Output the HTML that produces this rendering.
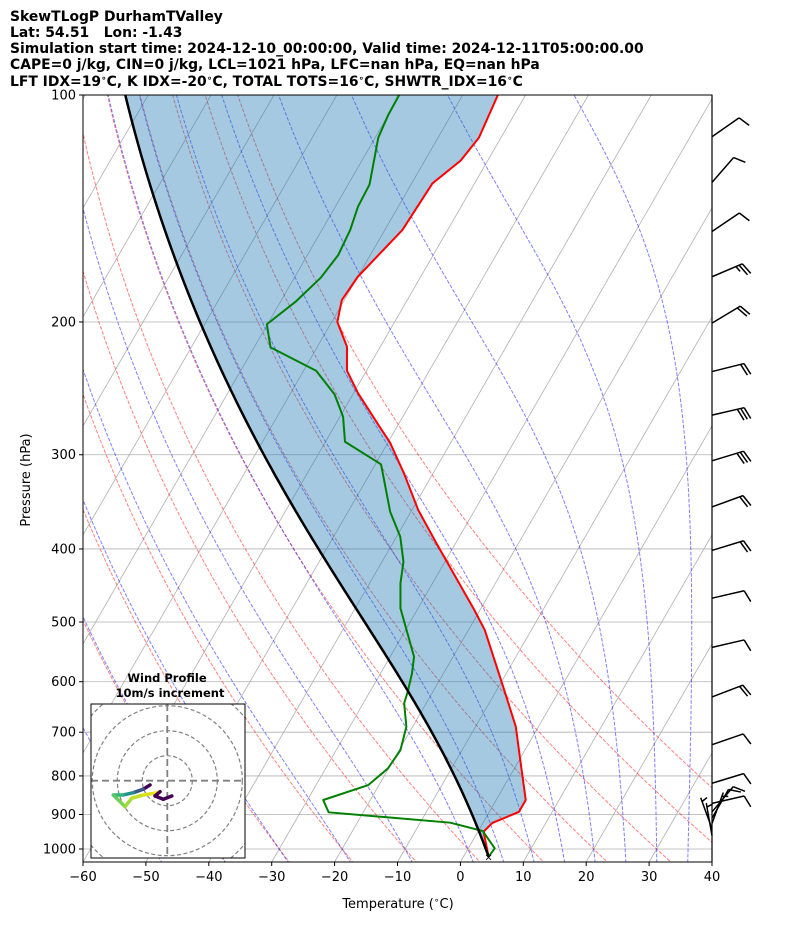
<!DOCTYPE html>
<html><head><meta charset="utf-8"><style>
body{margin:0;background:#fff;}
svg text{font-family:"DejaVu Sans","Liberation Sans",sans-serif;}
</style></head><body>
<svg id="chart" xmlns="http://www.w3.org/2000/svg" width="794" height="937" viewBox="0 0 794 937">
<defs><clipPath id="plotclip"><rect x="83" y="95" width="629" height="767"/></clipPath>
<clipPath id="insetclip"><rect x="91" y="704" width="154" height="154"/></clipPath></defs>
<g font-weight="bold" font-size="13.9">
<text x="10" y="21">SkewTLogP DurhamTValley</text>
<text x="10" y="37" xml:space="preserve">Lat: 54.51   Lon: -1.43</text>
<text x="10" y="53">Simulation start time: 2024-12-10_00:00:00, Valid time: 2024-12-11T05:00:00.00</text>
<text x="10" y="69">CAPE=0 j/kg, CIN=0 j/kg, LCL=1021 hPa, LFC=nan hPa, EQ=nan hPa</text>
<text x="10" y="86">LFT IDX=19<tspan font-size="9" dy="-5">∘</tspan><tspan dy="5">C, K IDX=-20</tspan><tspan font-size="9" dy="-5">∘</tspan><tspan dy="5">C, TOTAL TOTS=16</tspan><tspan font-size="9" dy="-5">∘</tspan><tspan dy="5">C, SHWTR_IDX=16</tspan><tspan font-size="9" dy="-5">∘</tspan><tspan dy="5">C</tspan></text>
</g>
<g id="grid" clip-path="url(#plotclip)"></g>
<g id="adiabats" clip-path="url(#plotclip)"></g>
<g id="series" clip-path="url(#plotclip)"></g>
<rect x="83" y="95" width="629" height="767" fill="none" stroke="#000" stroke-width="1"/>
<g id="axes" font-size="13"></g>
<text x="398" y="908" text-anchor="middle" font-size="13">Temperature (<tspan font-size="9" dy="-5">∘</tspan><tspan dy="5">C)</tspan></text>
<text x="30" y="480" text-anchor="middle" font-size="13" transform="rotate(-90 30 480)">Pressure (hPa)</text>
<g id="barbs"></g>
<g id="inset">
<text x="167" y="682" text-anchor="middle" font-size="11.5" font-weight="bold">Wind Profile</text>
<text x="170" y="697" text-anchor="middle" font-size="11.5" font-weight="bold">10m/s increment</text>
<rect x="91" y="704" width="154" height="154" fill="#fff" stroke="none"/>
<g id="insetg" clip-path="url(#insetclip)"></g>
<rect x="91" y="704" width="154" height="154" fill="none" stroke="#000" stroke-width="1"/>
</g>
</svg>
<script>
// ---- data ----
const tempP = [100,113.9,122.2,131,151,174.2,187.1,200,215.7,232.1,248.5,274,289.4,318.3,355.1,392.8,482,512.4,609,688.4,769,861,893,923.6,948.5,1023.8];
const tempT = [-64.4,-63.5,-64.3,-66.7,-67.2,-70.0,-70.4,-69.1,-65.3,-63.1,-59.3,-53.1,-49.6,-44.5,-39.0,-33.1,-20.9,-17.4,-9.3,-3.6,0.5,4.7,4.7,1.5,0.9,4.0];
const dewP = [100,106.3,113.9,131.4,140.6,151,163,174.7,188,201.4,216.1,232.1,249.5,267.1,288.3,308.9,314.3,357,385.3,415.9,444.2,479.5,555.9,584.8,618.5,640.8,688.4,739.2,781.6,822.6,861,894,922.8,946.5,997.9,1023.8];
const dewT = [-80.1,-80.0,-79.5,-76.6,-76.4,-75.5,-75.1,-75.8,-77.6,-80.1,-77.4,-68.0,-62.9,-59.5,-56.9,-49.1,-48.4,-43.3,-39.4,-36.6,-35.1,-32.8,-26.2,-25.0,-24.0,-23.5,-21.0,-19.8,-20.1,-21.7,-27.5,-25.5,-5.2,0.7,4.2,4.0];
const surfaceP = 1023.8;
const surfaceT = 4.0;
const xTicks = [-60,-50,-40,-30,-20,-10,0,10,20,30,40];
const pTicks = [100,200,300,400,500,600,700,800,900,1000];
const dryT0 = [-40,-30,-20,-10,0,10,20,30,40,50];
const moistT0 = [-50,-40,-30,-20,-10,0,5,10,15,20,25,30,35];
const barbP = [113.6,130.6,151.7,174.2,200.7,232.7,265.8,305.6,351.8,401.8,464.9,540.2,628.6,727.2,818.1,870,893,910,925,940,960];
const barbDir = [55,41,56,67,59,76,77,73,70,73,77,77,69,71,73,77,40,30,20,340,350];
const barbSpd = [10,10,10,25,20,20,30,30,20,20,10,10,20,10,10,10,10,10,5,5,5];
const hodoU = [-6.9,-9.6,-13.6,-17.6,-21.6,-19.6,-16.9,-14.2,-9.6,-4.9,-2.9,-4.9,-1.6,1.8];
const hodoV = [-1.7,-3.4,-4.8,-5.7,-5.7,-7.7,-10.4,-7.0,-5.7,-5.0,-4.4,-6.1,-7.4,-6.1];
const hodoColors = ['#440154','#3b528b','#21918c','#2fb47c','#5ec962','#7ad151','#a0da39','#bddf26','#dde318','#fde725','#440154','#440154','#440154'];
// ---- axes ----
const NS='http://www.w3.org/2000/svg';
const X0=83,X1=712,YT=95,YB=862;
function yP(p){return YT+754*Math.log10(p/100);}
function xT(T,y){return X0+(T+60)*6.29+(YB-y)*0.577;}
function pt(p,T){const y=yP(p);return [xT(T,y),y];}
function mk(tag,attrs,parent){const e=document.createElementNS(NS,tag);for(const k in attrs)e.setAttribute(k,attrs[k]);parent.appendChild(e);return e;}
function pathD(pts){return pts.map((q,i)=>(i?'L':'M')+q[0].toFixed(2)+','+q[1].toFixed(2)).join('');}
const grid=document.getElementById('grid'),adi=document.getElementById('adiabats'),ser=document.getElementById('series'),axes=document.getElementById('axes');
for(let T=-170;T<=40;T+=10){
  const l=mk('line',{x1:xT(T,YB),y1:YB,x2:xT(T,YT),y2:YT,stroke:'#b0b0b0','stroke-width':0.8},grid);
  
  
}
pTicks.forEach(p=>{
  const y=yP(p);
  const l=mk('line',{x1:X0,y1:y,x2:X1,y2:y,stroke:'#b0b0b0','stroke-width':0.8},grid);
  
  
  const tk=mk('line',{x1:X0-4,y1:y,x2:X0,y2:y,stroke:'#000'},axes);
  
  
  const t=mk('text',{x:X0-7,y:y+4.5,'text-anchor':'end'},axes);t.textContent=p;
  
  
});
xTicks.forEach(T=>{
  const x=xT(T,YB);
  const tk=mk('line',{x1:x,y1:YB,x2:x,y2:YB+4,stroke:'#000'},axes);
  
  
  const t=mk('text',{x:x,y:YB+19,'text-anchor':'middle'},axes);t.textContent=(T<0?'\u2212'+(-T):T);
  
  
});
// thermodynamics
const Rd=287.04749,Cp=1005.7,Lv=2.50084e6,eps=0.622;
function es(Tk){return 6.112*Math.exp(17.67*(Tk-273.15)/(Tk-29.65));}
function dTdp(p,Tk){const e=es(Tk);const rs=eps*e/(p-e);return (Rd*Tk+Lv*rs)/(Cp+Lv*Lv*rs*eps/(Rd*Tk*Tk))/p;}
function moist(p0,T0c,p1,step){
  let Tk=T0c+273.15,p=p0;const out=[[p,T0c]];const n=Math.ceil(Math.abs(p1-p0)/step);const h=(p1-p0)/n;
  for(let i=0;i<n;i++){
    const k1=dTdp(p,Tk),k2=dTdp(p+h/2,Tk+h/2*k1),k3=dTdp(p+h/2,Tk+h/2*k2),k4=dTdp(p+h,Tk+h*k3);
    Tk+=h/6*(k1+2*k2+2*k3+k4);p+=h;out.push([p,Tk-273.15]);
  }
  return out;
}
dryT0.forEach(t0=>{
  const pts=[];for(let p=1060;p>=100;p-=10){const T=(t0+273.15)*Math.pow(p/1000,0.2857)-273.15;pts.push(pt(p,T));}
  const e=mk('path',{d:pathD(pts),fill:'none',stroke:'rgba(255,0,0,0.5)','stroke-width':1,'stroke-dasharray':'3.7,1.6'},adi);
  
  
});
moistT0.forEach(t0=>{
  const up=moist(1000,t0,100,5),dn=moist(1000,t0,1060,5);
  const pts=dn.reverse().concat(up.slice(1)).map(a=>pt(a[0],a[1]));
  const e=mk('path',{d:pathD(pts),fill:'none',stroke:'rgba(0,0,255,0.5)','stroke-width':1,'stroke-dasharray':'3.7,1.6'},adi);
  
  
});
// parcel
const parcel=moist(surfaceP,surfaceT,100,4);
const parcelPts=parcel.map(a=>pt(a[0],a[1]));
const tPts=tempP.map((p,i)=>pt(p,tempT[i]));
const fillPts=parcelPts.concat(tPts.slice());
const fill=mk('path',{d:pathD(fillPts)+'Z',fill:'rgba(31,119,180,0.4)',stroke:'none'},ser);


const tl=mk('path',{d:pathD(tPts),fill:'none',stroke:'#ff0000','stroke-width':2,'stroke-linejoin':'round'},ser);


const dl=mk('path',{d:pathD(dewP.map((p,i)=>pt(p,dewT[i]))),fill:'none',stroke:'#008000','stroke-width':2,'stroke-linejoin':'round'},ser);


const pl=mk('path',{d:pathD(parcelPts),fill:'none',stroke:'#000','stroke-width':2.5},ser);


const sp=pt(surfaceP,surfaceT);
const sm=mk('text',{x:sp[0],y:sp[1]+4,'text-anchor':'middle','font-size':10},ser);sm.textContent='×';


// barbs
const barbs=document.getElementById('barbs');
barbP.forEach((p,i)=>{
  const y=yP(p),x=X1;const a=barbDir[i]*Math.PI/180;const dx=Math.sin(a),dy=-Math.cos(a);const L=33;
  const tx=x+dx*L,ty=y+dy*L;let d=`M${x},${y}L${tx},${ty}`;
  const px=-dy,py=dx;let s=barbSpd[i],pos=0;
  if(s<10&&s>=5){pos=4;}
  while(s>=10){const bx=tx-dx*pos,by=ty-dy*pos;d+=`M${bx},${by}L${bx+px*12+dx*4},${by+py*12+dy*4}`;pos+=3.5;s-=10;}
  if(s>=5){const bx=tx-dx*pos,by=ty-dy*pos;d+=`M${bx},${by}L${bx+px*6+dx*2},${by+py*6+dy*2}`;}
  const e=mk('path',{d:d,fill:'none',stroke:'#000','stroke-width':1.5},barbs);
  
  
});
const sline=mk('line',{x1:X1,y1:YT,x2:X1,y2:YB,stroke:'#000','stroke-width':1.2},barbs);


// inset hodograph
const ig=document.getElementById('insetg');const cx=167.3,cy=780.7,sc=2.5;
[10,20,30,40].forEach(r=>{
  const c=mk('circle',{cx:cx,cy:cy,r:r*sc,fill:'none',stroke:'#808080','stroke-width':1.2,'stroke-dasharray':'4,2.5'},ig);
  
  
});
const h1=mk('line',{x1:91,y1:cy,x2:245,y2:cy,stroke:'#808080','stroke-width':1.8,'stroke-dasharray':'7,4'},ig);


const h2=mk('line',{x1:cx,y1:704,x2:cx,y2:858,stroke:'#808080','stroke-width':1.8,'stroke-dasharray':'7,4'},ig);


for(let i=0;i<hodoU.length-1;i++){
  const s=mk('line',{x1:cx+hodoU[i]*sc,y1:cy-hodoV[i]*sc,x2:cx+hodoU[i+1]*sc,y2:cy-hodoV[i+1]*sc,stroke:hodoColors[i],'stroke-width':3.5,'stroke-linecap':'round'},ig);
  
  
}
</script>
</body></html>
